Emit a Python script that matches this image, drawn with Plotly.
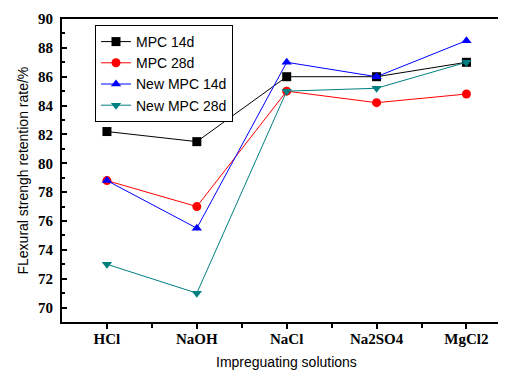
import plotly.graph_objects as go

categories = ["HCl", "NaOH", "NaCl", "Na2SO4", "MgCl2"]
mpc_14d = [82.2, 81.5, 86.0, 86.0, 87.0]
mpc_28d = [78.8, 77.0, 85.0, 84.2, 84.8]
new_mpc_14d = [78.8, 75.5, 87.0, 86.0, 88.5]
new_mpc_28d = [73.0, 71.0, 85.0, 85.2, 87.0]

series = [
    ("MPC 14d", mpc_14d, "#000000", "square"),
    ("MPC 28d", mpc_28d, "#FF0000", "circle"),
    ("New MPC 14d", new_mpc_14d, "#0000FF", "triangle-up"),
    ("New MPC 28d", new_mpc_28d, "#008080", "triangle-down"),
]

x_idx = list(range(len(categories)))
fig = go.Figure()
for name, vals, col, sym in series:
    fig.add_trace(go.Scatter(
        x=x_idx, y=vals, name=name, mode="lines+markers",
        line=dict(color=col, width=1),
        marker=dict(symbol=sym, size=9, color=col),
    ))

serif_bold = dict(family="Liberation Serif, Times New Roman", size=15, color="black", weight="bold")
sans = dict(family="Liberation Sans, Arial", size=14, color="black")

# page body has an 8px margin, so the figure is sized to fit the remaining window
W, H = 498, 364
L, T, B = 54, 11, 50
plot_h = H - T - B
plot_w = W - L

fig.update_layout(
    width=W, height=H,
    margin=dict(l=L, r=0, t=T, b=B, autoexpand=False),
    plot_bgcolor="white", paper_bgcolor="white",
    showlegend=True,
    legend=dict(
        x=(95 - 62) / plot_w, y=1 - (25 - 19) / plot_h, xanchor="left", yanchor="top",
        bordercolor="black", borderwidth=1, bgcolor="white",
        font=dict(family="Liberation Sans, Arial", size=14, color="black"),
        tracegroupgap=0, itemwidth=30,
    ),
    xaxis=dict(
        range=[-0.5, 4.44],
        tickmode="array", tickvals=x_idx, ticktext=categories,
        ticks="outside", ticklen=5, tickwidth=1.5, tickcolor="black",
        minor=dict(ticks="outside", ticklen=4, tickwidth=1.5, tickcolor="black",
                   tickmode="array", tickvals=[0.5, 1.5, 2.5, 3.5]),
        showline=True, linecolor="black", linewidth=2, mirror=True,
        showgrid=False, zeroline=False, automargin=False,
        ticklabelstandoff=-3,
        tickfont=serif_bold,
    ),
    yaxis=dict(
        range=[69, 90],
        tickmode="linear", tick0=70, dtick=2,
        ticks="inside", ticklen=5, tickwidth=1.5, tickcolor="black",
        minor=dict(ticks="inside", ticklen=3, tickwidth=1.5, tickcolor="black", dtick=1, tick0=69),
        showline=True, linecolor="black", linewidth=2, mirror=False,
        showgrid=False, zeroline=False, automargin=False,
        ticklabelstandoff=4,
        tickfont=serif_bold,
    ),
    annotations=[
        dict(text="Impreguating solutions", xref="paper", yref="paper",
             x=(286 - 62) / plot_w, y=-(362 - 322) / plot_h, xanchor="center", yanchor="middle",
             showarrow=False, font=sans),
        dict(text="FLexural strengh retention rate/%", xref="paper", yref="paper",
             x=-(62 - 22) / plot_w, y=0.5, xanchor="center", yanchor="middle",
             textangle=-90, showarrow=False,
             font=dict(family="Liberation Sans, Arial", size=14, color="black")),
    ],
)

fig.write_html("out.html")
